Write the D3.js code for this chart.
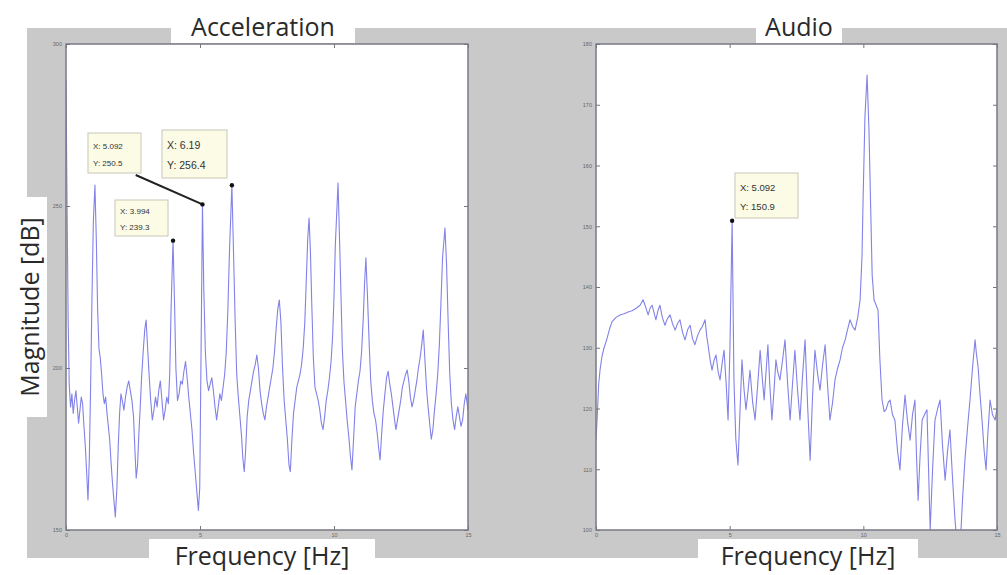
<!DOCTYPE html>
<html>
<head>
<meta charset="utf-8">
<script src="https://cdn.jsdelivr.net/npm/d3@7"></script>
<style>
  html, body { margin: 0; padding: 0; background: #ffffff; }
  svg { display: block; }
</style>
</head>
<body>
<svg id="chart" width="1007" height="575"></svg>
<script>
// Acceleration spectrum: [frequency Hz, magnitude dB]
const accelSpectrum = [
  [0, 288.9], [0.04, 250], [0.08, 215], [0.12, 195], [0.17, 188], [0.22, 192], [0.27, 186],
  [0.32, 190], [0.37, 193], [0.42, 188], [0.47, 183], [0.52, 187], [0.57, 191], [0.62, 189],
  [0.67, 182], [0.72, 176], [0.77, 168], [0.82, 159.3], [0.87, 172], [0.92, 195], [0.97, 222],
  [1.02, 245], [1.08, 256.5], [1.13, 240], [1.18, 218], [1.23, 206], [1.28, 203], [1.33, 198],
  [1.38, 192], [1.43, 189], [1.48, 191], [1.53, 186], [1.58, 182], [1.63, 178], [1.68, 171],
  [1.73, 165], [1.78, 160], [1.84, 154], [1.9, 163], [1.95, 176], [2.0, 186], [2.05, 192],
  [2.1, 190], [2.16, 187], [2.22, 191], [2.28, 194], [2.34, 196], [2.4, 193], [2.46, 190],
  [2.52, 185], [2.57, 175], [2.62, 166], [2.67, 170], [2.72, 180], [2.77, 188], [2.82, 197],
  [2.88, 205], [2.94, 212], [2.99, 214.8], [3.04, 207], [3.1, 198], [3.16, 190], [3.22, 184],
  [3.28, 187], [3.34, 191], [3.4, 188], [3.46, 193], [3.52, 196], [3.58, 190], [3.64, 184],
  [3.7, 187], [3.76, 191], [3.82, 189], [3.87, 198], [3.92, 218], [3.994, 239.3], [4.05, 220],
  [4.1, 200], [4.16, 190], [4.22, 192], [4.28, 196], [4.34, 195], [4.4, 199], [4.46, 202],
  [4.52, 197], [4.58, 191], [4.64, 186], [4.7, 181], [4.76, 174], [4.82, 168], [4.88, 162],
  [4.94, 156], [4.99, 163], [5.04, 205], [5.092, 250.5], [5.14, 225], [5.2, 205], [5.26, 196],
  [5.32, 193], [5.38, 195], [5.44, 197], [5.5, 193], [5.56, 188], [5.62, 184], [5.68, 188],
  [5.74, 192], [5.8, 190], [5.86, 194], [5.92, 198], [5.98, 205], [6.04, 218], [6.1, 236],
  [6.19, 256.4], [6.25, 236], [6.31, 215], [6.37, 198], [6.43, 191], [6.49, 185], [6.55, 179],
  [6.6, 172], [6.65, 168], [6.7, 174], [6.76, 185], [6.82, 190], [6.88, 193], [6.94, 196],
  [7.0, 199], [7.06, 201], [7.12, 204], [7.18, 200], [7.24, 193], [7.3, 189], [7.36, 186],
  [7.42, 184], [7.48, 188], [7.54, 191], [7.6, 194], [7.66, 197], [7.72, 200], [7.78, 205],
  [7.84, 212], [7.9, 218], [7.96, 221], [8.02, 214], [8.08, 200], [8.14, 190], [8.2, 184],
  [8.26, 178], [8.32, 170], [8.37, 168], [8.43, 178], [8.49, 186], [8.55, 190], [8.61, 194],
  [8.67, 196], [8.73, 198], [8.79, 201], [8.85, 206], [8.91, 214], [8.97, 228], [9.02, 240],
  [9.07, 246.3], [9.12, 236], [9.17, 220], [9.23, 203], [9.29, 194], [9.35, 192], [9.41, 190],
  [9.47, 187], [9.53, 183], [9.59, 181], [9.65, 185], [9.71, 190], [9.77, 193], [9.83, 197],
  [9.89, 202], [9.95, 210], [10.0, 222], [10.05, 238], [10.15, 257.1], [10.2, 242], [10.25, 226],
  [10.31, 206], [10.37, 196], [10.43, 190], [10.49, 184], [10.55, 179], [10.61, 173], [10.67, 168.5],
  [10.73, 178], [10.79, 188], [10.85, 192], [10.91, 196], [10.97, 199], [11.03, 205], [11.09, 215],
  [11.14, 226], [11.19, 234], [11.25, 222], [11.31, 208], [11.37, 196], [11.43, 190], [11.49, 186],
  [11.55, 184], [11.61, 180], [11.67, 175], [11.72, 171.6], [11.78, 180], [11.84, 187], [11.9, 192],
  [11.96, 197], [12.02, 199], [12.08, 195], [12.14, 192], [12.2, 188], [12.26, 184], [12.31, 181],
  [12.37, 184], [12.43, 187], [12.49, 190], [12.55, 194], [12.61, 196], [12.67, 198], [12.73, 199.4],
  [12.79, 196], [12.85, 191], [12.91, 188], [12.97, 190], [13.03, 193], [13.09, 196], [13.15, 200],
  [13.21, 203], [13.27, 207], [13.33, 211.7], [13.39, 203], [13.45, 194], [13.51, 188], [13.57, 183],
  [13.63, 178], [13.69, 181], [13.75, 187], [13.81, 192], [13.87, 198], [13.93, 207], [13.99, 220],
  [14.05, 234], [14.14, 243.2], [14.2, 232], [14.26, 214], [14.32, 198], [14.38, 189], [14.44, 184],
  [14.5, 181], [14.56, 185], [14.62, 188], [14.68, 185], [14.74, 182], [14.8, 184], [14.86, 189],
  [14.92, 192], [14.97, 189], [15.0, 187]
];

// Audio spectrum: [frequency Hz, magnitude dB]
const audioSpectrum = [
  [0, 114.8], [0.05, 119], [0.1, 124], [0.15, 126.3], [0.22, 128.5], [0.3, 130], [0.4, 131.3],
  [0.5, 133], [0.6, 134.3], [0.75, 135], [0.9, 135.4], [1.05, 135.6], [1.2, 135.9], [1.35, 136.1],
  [1.5, 136.5], [1.65, 137], [1.76, 137.9], [1.85, 136.8], [1.95, 135.4], [2.03, 136.6], [2.1, 137],
  [2.17, 135.8], [2.24, 134.6], [2.31, 136], [2.39, 137], [2.48, 135], [2.58, 133.7], [2.67, 134.8],
  [2.77, 135.4], [2.86, 134], [2.96, 132.9], [3.05, 134], [3.14, 134.6], [3.24, 132.5], [3.33, 131.3],
  [3.43, 133], [3.52, 133.7], [3.61, 131.5], [3.7, 130.5], [3.8, 132], [3.89, 132.9], [3.98, 133.5],
  [4.08, 134.6], [4.14, 132], [4.19, 130.5], [4.27, 128], [4.34, 126.3], [4.42, 128], [4.49, 128.8],
  [4.57, 126], [4.64, 124.7], [4.72, 127.5], [4.79, 129.6], [4.87, 124], [4.94, 118.1], [5.01, 130],
  [5.092, 150.9], [5.16, 124.7], [5.23, 115], [5.31, 110.7], [5.39, 120], [5.46, 128], [5.54, 123],
  [5.61, 119.8], [5.69, 123], [5.76, 126.3], [5.86, 121], [5.95, 118.1], [6.05, 124], [6.14, 129.6],
  [6.22, 125], [6.29, 121.4], [6.36, 126], [6.43, 130.5], [6.5, 124], [6.58, 118.1], [6.66, 123],
  [6.73, 128], [6.8, 126], [6.88, 124.7], [6.98, 128], [7.07, 131.3], [7.17, 124], [7.26, 118.1],
  [7.35, 124], [7.44, 129.6], [7.54, 123], [7.63, 118.1], [7.72, 125], [7.82, 131.3], [7.92, 120],
  [8.01, 111.5], [8.1, 122], [8.19, 129.6], [8.28, 126], [8.38, 123], [8.47, 127], [8.57, 130.5],
  [8.66, 124], [8.75, 118.1], [8.85, 121], [8.94, 124.7], [9.03, 126.5], [9.13, 128], [9.22, 130],
  [9.32, 131.3], [9.41, 133], [9.5, 134.6], [9.6, 133.5], [9.69, 132.9], [9.79, 135], [9.88, 137.9],
  [9.95, 145], [9.99, 154.3], [10.06, 168], [10.14, 174.9], [10.21, 166], [10.27, 154], [10.33, 142],
  [10.4, 137.9], [10.48, 137], [10.55, 136.2], [10.62, 128], [10.7, 121.4], [10.78, 119.5], [10.85, 119.8],
  [10.93, 121], [11.0, 121.4], [11.09, 119], [11.18, 118.1], [11.28, 113], [11.37, 109.9], [11.46, 117],
  [11.56, 122.2], [11.65, 118], [11.75, 114.8], [11.84, 119], [11.93, 121.4], [11.99, 112], [12.05, 104.9],
  [12.12, 112], [12.2, 118.1], [12.29, 119], [12.38, 119.8], [12.44, 110], [12.5, 100], [12.59, 110],
  [12.68, 118.1], [12.78, 120], [12.87, 121.4], [12.96, 114], [13.06, 108.2], [13.15, 113], [13.24, 116.5],
  [13.33, 109], [13.43, 101.6], [13.52, 97], [13.62, 97], [13.71, 105], [13.8, 111.5], [13.9, 117],
  [13.99, 121.4], [14.09, 127], [14.18, 131.3], [14.23, 129], [14.29, 127], [14.37, 122], [14.44, 118.1],
  [14.52, 113], [14.59, 109.9], [14.66, 116], [14.74, 121.4], [14.83, 119], [14.93, 118.1], [15.0, 120]
];

// Tick values for each panel
const freqTicks = [0, 5, 10, 15];
const accelTicks = [150, 200, 250, 300];
const audioTicks = [100, 110, 120, 130, 140, 150, 160, 170, 180];

// Data tips shown on the curves
const accelTips = [
  { x: 5.092, y: 250.5 },
  { x: 6.19, y: 256.4 },
  { x: 3.994, y: 239.3 }
];
const audioTips = [
  { x: 5.092, y: 150.9 }
];

const svg = d3.select("#chart");
const LINE = "#8282e8";
const FONT = "'Open Sans', 'Noto Sans', sans-serif";

// grey figure background
svg.append("rect").attr("x", 27).attr("y", 28).attr("width", 980).attr("height", 530)
  .attr("fill", "#c9c9c9");

function panel(cfg) {
  const x = d3.scaleLinear().domain([0, 15]).range([cfg.left, cfg.right]);
  const y = d3.scaleLinear().domain(cfg.yDomain).range([cfg.bottom, cfg.top]);
  const g = svg.append("g");

  g.append("rect").attr("x", cfg.left).attr("y", cfg.top)
    .attr("width", cfg.right - cfg.left).attr("height", cfg.bottom - cfg.top)
    .attr("fill", "#ffffff");

  const clipId = "clip-" + cfg.id;
  g.append("clipPath").attr("id", clipId).append("rect")
    .attr("x", cfg.left).attr("y", cfg.top)
    .attr("width", cfg.right - cfg.left).attr("height", cfg.bottom - cfg.top);

  const line = d3.line().x(d => x(d[0])).y(d => y(d[1]));
  g.append("path").datum(cfg.data)
    .attr("clip-path", `url(#${clipId})`)
    .attr("fill", "none").attr("stroke", LINE).attr("stroke-width", 1.1)
    .attr("stroke-linejoin", "round")
    .attr("d", line);

  const styleAxis = sel => {
    sel.select(".domain").remove();
    sel.selectAll(".tick line").attr("stroke", "#777").attr("stroke-width", 1);
    sel.selectAll(".tick text").attr("fill", "#666").attr("font-size", 5.5)
      .attr("font-family", "Arial, sans-serif");
  };

  g.append("g").attr("transform", `translate(0,${cfg.bottom})`)
    .call(d3.axisBottom(x).tickValues(freqTicks).tickSize(-4).tickPadding(3).tickFormat(d3.format("d")))
    .call(styleAxis);
  g.append("g").attr("transform", `translate(0,${cfg.top})`)
    .call(d3.axisTop(x).tickValues(freqTicks).tickSize(-4).tickFormat(""))
    .call(styleAxis);
  g.append("g").attr("transform", `translate(${cfg.left},0)`)
    .call(d3.axisLeft(y).tickValues(cfg.yTicks).tickSize(-4).tickPadding(4).tickFormat(d3.format("d")))
    .call(styleAxis);
  g.append("g").attr("transform", `translate(${cfg.right},0)`)
    .call(d3.axisRight(y).tickValues(cfg.yTicks).tickSize(-4).tickFormat(""))
    .call(styleAxis);

  // axes box
  g.append("path")
    .attr("d", `M${cfg.left},${cfg.top}H${cfg.right}V${cfg.bottom}H${cfg.left}Z`)
    .attr("fill", "none").attr("stroke", "#7a7a86").attr("stroke-width", 1.5);

  return { x, y, g };
}

function dataTip(p, tip, box, fontSize, link) {
  const g = p.g.append("g");
  const px = p.x(tip.x), py = p.y(tip.y);
  if (link) {
    g.append("line").attr("x1", box.x + box.w * 0.9).attr("y1", box.y + box.h + 2)
      .attr("x2", px).attr("y2", py)
      .attr("stroke", "#222").attr("stroke-width", 2);
  }
  g.append("rect").attr("x", box.x).attr("y", box.y).attr("width", box.w).attr("height", box.h)
    .attr("fill", "#fbfbe6").attr("stroke", "#c8c8b8").attr("stroke-width", 1);
  const t = g.append("text").attr("font-family", "Arial, sans-serif")
    .attr("font-size", fontSize).attr("fill", "#333");
  t.append("tspan").attr("x", box.x + 5).attr("y", box.y + box.h * 0.4)
    .text("X: " + tip.x);
  t.append("tspan").attr("x", box.x + 5).attr("y", box.y + box.h * 0.82)
    .text("Y: " + tip.y);
  g.append("circle").attr("cx", px).attr("cy", py).attr("r", 2.2).attr("fill", "#111");
}

const accel = panel({
  id: "accel", left: 66, right: 468, top: 44, bottom: 530,
  yDomain: [150, 300], yTicks: accelTicks, data: accelSpectrum
});
const audio = panel({
  id: "audio", left: 596, right: 997, top: 44, bottom: 530,
  yDomain: [100, 180], yTicks: audioTicks, data: audioSpectrum
});

dataTip(accel, accelTips[0], { x: 88, y: 133, w: 53, h: 40 }, 8, true);
dataTip(accel, accelTips[1], { x: 162, y: 130, w: 65, h: 48 }, 10.5, false);
dataTip(accel, accelTips[2], { x: 115, y: 200, w: 53, h: 36 }, 8, false);
dataTip(audio, audioTips[0], { x: 735, y: 173, w: 63, h: 45 }, 9.5, false);

// titles and axis labels on white boxes
function label(text, cx, cy, boxW, boxH, size, rotate) {
  const g = svg.append("g").attr("transform", `translate(${cx},${cy}) rotate(${rotate || 0})`);
  g.append("rect").attr("x", -boxW / 2).attr("y", -boxH / 2).attr("width", boxW).attr("height", boxH)
    .attr("fill", "#ffffff");
  g.append("text").attr("text-anchor", "middle").attr("dominant-baseline", "central")
    .attr("font-family", FONT).attr("font-size", size).attr("fill", "#2a2a2a")
    .text(text);
}

label("Acceleration", 263, 26, 184, 34, 25);
label("Audio", 799, 26, 86, 34, 25);
label("Magnitude [dB]", 29, 307, 220, 36, 25, -90);
label("Frequency [Hz]", 262, 555, 226, 32, 25);
label("Frequency [Hz]", 808, 555, 220, 32, 25);
</script>
</body>
</html>
